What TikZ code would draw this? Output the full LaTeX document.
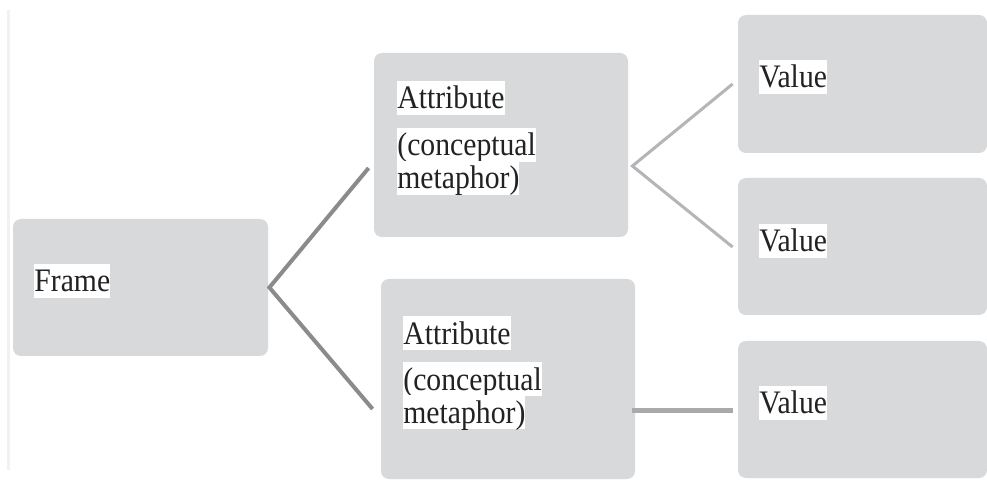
\documentclass[tikz,border=0pt]{standalone}
\usepackage{fontspec}
\setmainfont{Liberation Serif}[FakeStretch=0.905]
\definecolor{boxgray}{HTML}{D8D9DB}
\definecolor{linedark}{HTML}{8B8B8D}
\definecolor{linelight}{HTML}{B5B5B8}
\definecolor{linemid}{HTML}{AAAAAD}
\definecolor{edgegray}{HTML}{F1F1F1}
\definecolor{txt}{HTML}{222222}
\begin{document}
\begin{tikzpicture}[x=0.5pt,y=-0.5pt,
  panel/.style={rectangle, rounded corners=4pt, fill=boxgray, draw=none, inner sep=0pt},
  label/.style={anchor=north west, inner sep=0pt, fill=white, text=txt,
    font=\fontsize{16.4}{18}\selectfont, text height=13.8pt, text depth=3.2pt},
  conndark/.style={draw=linedark, line width=2pt},
  connlight/.style={draw=linelight, line width=1.5pt},
  connmid/.style={draw=linemid, line width=2.5pt}]
\useasboundingbox (0,0) rectangle (987,481);
\clip (0,0) rectangle (987,481);
\fill[white] (0,0) rectangle (987,481);
% faint left rule
\draw[edgegray, line width=1.5pt] (8,10) -- (8,470);
% boxes
\node[panel, minimum width=127.5pt, minimum height=68.5pt] (frame) at (140.5,287.5) {};
\node[panel, minimum width=127pt, minimum height=92pt] (attr1) at (501,145) {};
\node[panel, minimum width=127pt, minimum height=100pt] (attr2) at (508,379) {};
\node[panel, minimum width=124.5pt, minimum height=69pt] (val1) at (862.5,84) {};
\node[panel, minimum width=124.5pt, minimum height=68.5pt] (val2) at (862.5,246.5) {};
\node[panel, minimum width=124.5pt, minimum height=68.5pt] (val3) at (862.5,409.5) {};
% texts
\node[label] (tframe) at (34,264) {Frame};
\node[label] (ta1) at (397,81) {Attribute};
\node[label] (tc1) at (397,128) {(conceptual};
\node[label] (tm1) at (397,161) {metaphor)};
\node[label] (ta2) at (403,316) {Attribute};
\node[label] (tc2) at (403,362) {(conceptual};
\node[label] (tm2) at (403,395) {metaphor)};
\node[label] (tv1) at (759,60) {Value};
\node[label] (tv2) at (759,224) {Value};
\node[label] (tv3) at (759,386) {Value};
% connector points
\coordinate (fv) at ([xshift=0.5pt]frame.east);
\coordinate (a1in) at ([xshift=-2.5pt,yshift=-11.5pt]attr1.west);
\coordinate (a2in) at ([xshift=-4pt,yshift=-15pt]attr2.west);
\coordinate (a1v) at ([xshift=2pt,yshift=-10.5pt]attr1.east);
\coordinate (v1in) at ([xshift=-2.5pt]val1.west);
\coordinate (v2in) at ([xshift=-2.5pt,yshift=-0.25pt]val2.west);
\coordinate (a2out) at ([xshift=-1.5pt,yshift=-15.5pt]attr2.east);
\coordinate (v3in) at ([xshift=-2.5pt,yshift=-0.25pt]val3.west);
% connectors
\draw[conndark, line join=miter] (a1in) -- (fv) -- (a2in);
\draw[connlight, line join=miter] (v1in) -- (a1v) -- (v2in);
\draw[connmid] (a2out) -- (v3in |- a2out);
\end{tikzpicture}
\end{document}
